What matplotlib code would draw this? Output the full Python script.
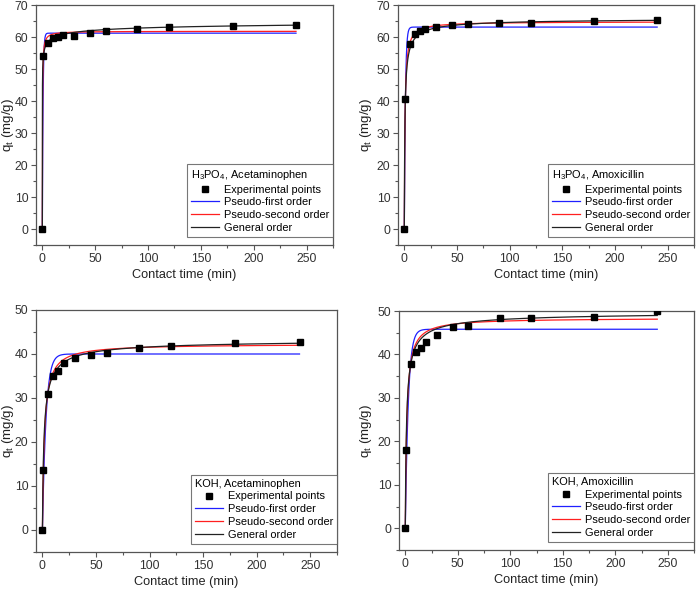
import numpy as np
import matplotlib
matplotlib.use('Agg')
import matplotlib.pyplot as plt
from matplotlib.ticker import MultipleLocator

plt.rcParams['font.family'] = ['Liberation Sans', 'DejaVu Sans']
plt.rcParams['mathtext.fontset'] = 'custom'
plt.rcParams['mathtext.rm'] = 'Liberation Sans'
plt.rcParams['mathtext.it'] = 'Liberation Sans'
plt.rcParams['mathtext.default'] = 'rm'

# contact times (min)
time_min = [0, 1, 5, 10, 15, 20, 30, 45, 60, 90, 120, 180, 240]

# experimental q_t (mg/g)
q_h3po4_acet = [0, 54.0, 58.0, 59.8, 60.1, 60.5, 60.2, 61.4, 61.9, 62.4, 63.2, 63.3, 63.6]
q_h3po4_amox = [0, 40.5, 57.8, 61.0, 62.0, 62.4, 63.1, 63.8, 64.1, 64.4, 64.5, 65.0, 65.3]
q_koh_acet = [0, 13.6, 30.9, 35.1, 36.2, 38.0, 39.2, 39.7, 40.2, 41.4, 41.9, 42.4, 42.7]
q_koh_amox = [0, 18.0, 37.8, 40.6, 41.5, 42.8, 44.5, 46.3, 46.6, 48.3, 48.5, 48.7, 49.9]

titles = ['H$_3$PO$_4$, Acetaminophen', 'H$_3$PO$_4$, Amoxicillin',
          'KOH, Acetaminophen', 'KOH, Amoxicillin']

# fitted model parameters per panel (estimated)
pfo_qe = [61.2, 63.1, 40.0, 45.8]
pfo_k1 = [1.5, 1.0, 0.30, 0.35]
pso_qe = [61.8, 64.8, 42.3, 48.4]
pso_k2 = [0.11, 0.0257, 0.0130, 0.0147]
gen_qe = [67.0, 66.0, 43.5, 50.0]
gen_k = [8.75e-6, 3.94e-3, 2.55e-3, 2.64e-3]
gen_n = [5.0, 2.5, 2.5, 2.5]

ylims = [(-5, 70), (-5, 70), (-5, 50), (-5, 50)]


def pseudo_first(t, qe, k):
    return qe * (1 - np.exp(-k * t))


def pseudo_second(t, qe, k):
    return qe * qe * k * t / (1 + qe * k * t)


def general_order(t, qe, k, n):
    return qe - qe / (k * qe ** (n - 1) * t * (n - 1) + 1) ** (1 / (n - 1))


data = [q_h3po4_acet, q_h3po4_amox, q_koh_acet, q_koh_amox]
t_fit = np.linspace(0, 240, 2000)

fig = plt.figure(figsize=(6.98, 5.89), dpi=100)
boxes = [(36, 5, 333, 245), (398, 5, 694, 245),
         (36, 310, 337, 552), (399, 311, 694, 550)]
ylabel_x = [16, 374, 16, 374]
W, H = 698, 589
frame = '#555555'

for i in range(4):
    l, t, r, b = boxes[i]
    ax = fig.add_axes([l / W, 1 - b / H, (r - l) / W, (b - t) / H])
    ax.plot(time_min, data[i], 's', color='black', markersize=4.5,
            linestyle='none', label='Experimental points', zorder=5)
    ax.plot(t_fit, pseudo_first(t_fit, pfo_qe[i], pfo_k1[i]), color='#1f1fff',
            lw=0.9, label='Pseudo-first order', zorder=2)
    ax.plot(t_fit, pseudo_second(t_fit, pso_qe[i], pso_k2[i]), color='#ff1f1f',
            lw=0.9, label='Pseudo-second order', zorder=3)
    ax.plot(t_fit, general_order(t_fit, gen_qe[i], gen_k[i], gen_n[i]),
            color='#222222', lw=0.9, label='General order', zorder=4)

    ax.set_xlim(-6, 275)
    ax.set_ylim(*ylims[i])
    ax.xaxis.set_major_locator(MultipleLocator(50))
    ax.xaxis.set_minor_locator(MultipleLocator(25))
    ax.yaxis.set_major_locator(MultipleLocator(10))
    ax.yaxis.set_minor_locator(MultipleLocator(5))
    ax.tick_params(which='both', direction='out', top=False, right=False,
                   labelsize=8.8, color=frame, labelcolor='#333333', pad=2)
    ax.tick_params(which='major', length=3.5, width=0.8)
    ax.tick_params(which='minor', length=2, width=0.8)
    for s in ax.spines.values():
        s.set_color(frame)
        s.set_linewidth(0.9)
    ax.set_xlabel('Contact time (min)', fontsize=9.2, color='#222222', labelpad=3)
    ax.set_ylabel('q$_t$ (mg/g)', fontsize=9.6, color='#222222')
    ax.yaxis.set_label_coords((ylabel_x[i] - l) / (r - l), 0.5)

    leg = ax.legend(loc='lower right', bbox_to_anchor=(1.0, 0.035),
                    title=titles[i], fontsize=7.9,
                    title_fontsize=7.9, frameon=True, fancybox=False,
                    borderaxespad=0, handlelength=2.6, handletextpad=0.4,
                    labelspacing=0.25, borderpad=0.35, alignment='left')
    leg.get_frame().set_edgecolor(frame)
    leg.get_frame().set_linewidth(0.8)

fig.savefig('out.png', dpi=100)
